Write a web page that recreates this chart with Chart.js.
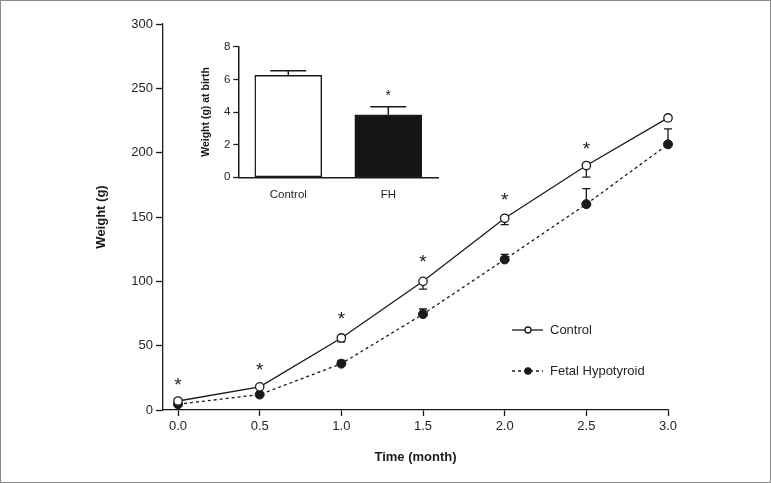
<!DOCTYPE html>
<html>
<head>
<meta charset="utf-8">
<script src="https://cdn.jsdelivr.net/npm/chart.js@4.4.1/dist/chart.umd.min.js"></script>
<style>
  html, body { margin: 0; padding: 0; background: #ffffff; }
  #wrap { position: relative; width: 771px; height: 483px; overflow: hidden; background: #fff; }
  #main { position: absolute; left: 0; top: 0; }
  #inset { position: absolute; left: 180px; top: 30px; }
  #frame { position: absolute; left: 0; top: 0; width: 771px; height: 483px; box-sizing: border-box; border: 1px solid #8a8a8a; pointer-events: none; }
</style>
</head>
<body>
<div id="wrap">
  <canvas id="main" width="771" height="483"></canvas>
  <canvas id="inset" width="270" height="175"></canvas>
  <div id="frame"></div>
</div>
<script>
// ---------- data ----------
const months = [0, 0.5, 1, 1.5, 2, 2.5, 3];
const controlWeight = [7, 18, 56, 100, 149, 190, 227];
const controlSem = [0, 0, 3, 6, 5, 9, 2];
const fhWeight = [4.5, 12, 36, 74.5, 117, 160, 206.5];
const fhSem = [0, 0, 2.5, 4, 4, 12, 12];
const starMonths = [0, 0.5, 1, 1.5, 2, 2.5];
const starLevels = [23, 35, 75, 119, 167, 207];
const xTickValues = [0, 0.5, 1, 1.5, 2, 2.5, 3];
const yTickValues = [0, 50, 100, 150, 200, 250, 300];
const seriesNames = ['Control', 'Fetal Hypotyroid'];

const birthGroups = ['Control', 'FH'];
const birthWeight = [6.25, 3.83];
const birthSem = [0.28, 0.49];
const birthStarLevel = [null, 5.24];
const birthTickValues = [0, 2, 4, 6, 8];

// ---------- styling ----------
const FONT = "'Liberation Sans Narrow', 'Arial Narrow', 'Liberation Sans', Arial, sans-serif";
const INK = '#1a1a1a';
const TXT = '#262626';

const errorBarPlugin = {
  id: 'errorBars',
  beforeDatasetsDraw(chart) {
    const ctx = chart.ctx, xs = chart.scales.x, ys = chart.scales.y;
    ctx.save();
    ctx.strokeStyle = INK;
    ctx.lineWidth = 1.3;
    const cap = 4;
    months.forEach((m, i) => {
      const px = xs.getPixelForValue(m);
      if (controlSem[i] > 0) {
        const y0 = ys.getPixelForValue(controlWeight[i]);
        const y1 = ys.getPixelForValue(controlWeight[i] - controlSem[i]);
        ctx.beginPath(); ctx.moveTo(px, y0); ctx.lineTo(px, y1);
        ctx.moveTo(px - cap, y1); ctx.lineTo(px + cap, y1); ctx.stroke();
      }
      if (fhSem[i] > 0) {
        const y0 = ys.getPixelForValue(fhWeight[i]);
        const y1 = ys.getPixelForValue(fhWeight[i] + fhSem[i]);
        ctx.beginPath(); ctx.moveTo(px, y0); ctx.lineTo(px, y1);
        ctx.moveTo(px - cap, y1); ctx.lineTo(px + cap, y1); ctx.stroke();
      }
    });
    ctx.restore();
  },
  afterDatasetsDraw(chart) {
    const ctx = chart.ctx, xs = chart.scales.x, ys = chart.scales.y;
    ctx.save();
    ctx.fillStyle = INK;
    ctx.font = "19px " + FONT;
    ctx.textAlign = 'center';
    ctx.textBaseline = 'alphabetic';
    starMonths.forEach((m, i) => {
      const px = xs.getPixelForValue(m);
      const py = ys.getPixelForValue(starLevels[i]);
      ctx.fillText('*', px, py + 11);
    });
    // legend
    const lx0 = 512, lx1 = 543, lc = 528, tx = 550;
    const rows = [330, 371];
    ctx.font = "13px " + FONT;
    ctx.textAlign = 'left';
    ctx.textBaseline = 'middle';
    ctx.lineWidth = 1.3;
    ctx.strokeStyle = INK;
    ctx.setLineDash([]);
    ctx.beginPath(); ctx.moveTo(lx0, rows[0]); ctx.lineTo(lx1, rows[0]); ctx.stroke();
    ctx.beginPath(); ctx.arc(lc, rows[0], 3, 0, Math.PI * 2); ctx.fillStyle = '#fff'; ctx.fill(); ctx.stroke();
    ctx.fillStyle = TXT;
    ctx.fillText(seriesNames[0], tx, rows[0]);
    ctx.setLineDash([3, 3]);
    ctx.beginPath(); ctx.moveTo(lx0, rows[1]); ctx.lineTo(lx1, rows[1]); ctx.stroke();
    ctx.setLineDash([]);
    ctx.fillStyle = INK;
    ctx.beginPath(); ctx.arc(lc, rows[1], 3.8, 0, Math.PI * 2); ctx.fill();
    ctx.fillStyle = TXT;
    ctx.fillText(seriesNames[1], tx, rows[1]);
    ctx.restore();
  }
};

new Chart(document.getElementById('main'), {
  type: 'line',
  data: {
    datasets: [
      {
        label: seriesNames[0],
        data: months.map((m, i) => ({ x: m, y: controlWeight[i] })),
        borderColor: INK, borderWidth: 1.3,
        pointRadius: 4.2, pointBackgroundColor: '#ffffff', pointBorderColor: INK, pointBorderWidth: 1.3,
        tension: 0, order: 1, clip: false
      },
      {
        label: seriesNames[1],
        data: months.map((m, i) => ({ x: m, y: fhWeight[i] })),
        borderColor: INK, borderWidth: 1.3, borderDash: [3, 3],
        pointRadius: 4.5, pointBackgroundColor: INK, pointBorderColor: INK, pointBorderWidth: 1,
        tension: 0, order: 2, clip: false
      }
    ]
  },
  options: {
    responsive: false,
    animation: false,
    devicePixelRatio: 1,
    layout: { padding: { left: 94, right: 103, top: 24, bottom: 18 } },
    plugins: { legend: { display: false }, tooltip: { enabled: false } },
    scales: {
      x: {
        type: 'linear', min: -0.092, max: 3,
        afterBuildTicks: s => { s.ticks = xTickValues.map(v => ({ value: v })); },
        afterFit: s => { s.height = 55; },
        grid: { drawOnChartArea: false, drawTicks: true, tickLength: 6, tickColor: INK, tickWidth: 1.3 },
        border: { display: true, color: INK, width: 1.3 },
        ticks: { color: TXT, font: { family: FONT, size: 13 }, padding: 3, maxRotation: 0,
                 callback: v => Number(v).toFixed(1) },
        title: { display: true, text: 'Time (month)', color: INK, font: { family: FONT, size: 13, weight: 'bold' }, padding: 0 }
      },
      y: {
        type: 'linear', min: 0, max: 300,
        afterBuildTicks: s => { s.ticks = yTickValues.map(v => ({ value: v })); },
        afterFit: s => { s.width = 69; },
        grid: { drawOnChartArea: false, drawTicks: true, tickLength: 7, tickColor: INK, tickWidth: 1.3 },
        border: { display: true, color: INK, width: 1.3 },
        ticks: { color: TXT, font: { family: FONT, size: 13 }, padding: 3 },
        title: { display: true, text: 'Weight (g)', color: INK, font: { family: FONT, size: 13, weight: 'bold' }, padding: 0 }
      }
    }
  },
  plugins: [errorBarPlugin]
});

// ---------- inset ----------
const insetPlugin = {
  id: 'insetErr',
  afterDatasetsDraw(chart) {
    const ctx = chart.ctx, ys = chart.scales.y;
    const meta = chart.getDatasetMeta(0);
    ctx.save();
    ctx.strokeStyle = INK; ctx.lineWidth = 1.5;
    meta.data.forEach((bar, i) => {
      const y0 = ys.getPixelForValue(birthWeight[i]);
      const y1 = ys.getPixelForValue(birthWeight[i] + birthSem[i]);
      ctx.beginPath(); ctx.moveTo(bar.x, y0); ctx.lineTo(bar.x, y1);
      ctx.moveTo(bar.x - 18, y1); ctx.lineTo(bar.x + 18, y1); ctx.stroke();
      if (birthStarLevel[i] != null) {
        ctx.fillStyle = INK;
        ctx.font = "14px " + FONT;
        ctx.textAlign = 'center';
        ctx.fillText('*', bar.x, ys.getPixelForValue(birthStarLevel[i]) + 8);
      }
    });
    ctx.restore();
  }
};

new Chart(document.getElementById('inset'), {
  type: 'bar',
  data: {
    labels: birthGroups,
    datasets: [{
      data: birthWeight,
      backgroundColor: ['#ffffff', '#151515'],
      borderColor: INK, borderWidth: 1.5, borderSkipped: false,
      barThickness: 67
    }]
  },
  options: {
    responsive: false,
    animation: false,
    devicePixelRatio: 1,
    layout: { padding: { left: 20, right: 11.7, top: 16.7, bottom: 0 } },
    plugins: { legend: { display: false }, tooltip: { enabled: false } },
    scales: {
      x: {
        afterFit: s => { s.height = 27.7; },
        grid: { display: false },
        border: { display: true, color: INK, width: 1.5 },
        ticks: { color: TXT, font: { family: FONT, size: 11.5 }, padding: 3 }
      },
      y: {
        min: 0, max: 8,
        afterBuildTicks: s => { s.ticks = birthTickValues.map(v => ({ value: v })); },
        afterFit: s => { s.width = 38.3; },
        grid: { drawOnChartArea: false, drawTicks: true, tickLength: 5, tickColor: INK, tickWidth: 1.3 },
        border: { display: true, color: INK, width: 1.5 },
        ticks: { color: TXT, font: { family: FONT, size: 11.5 }, padding: 3 },
        title: { display: true, text: 'Weight (g) at birth', color: INK, font: { family: FONT, size: 10.5, weight: 'bold' }, padding: 0 }
      }
    }
  },
  plugins: [insetPlugin]
});
</script>
</body>
</html>
